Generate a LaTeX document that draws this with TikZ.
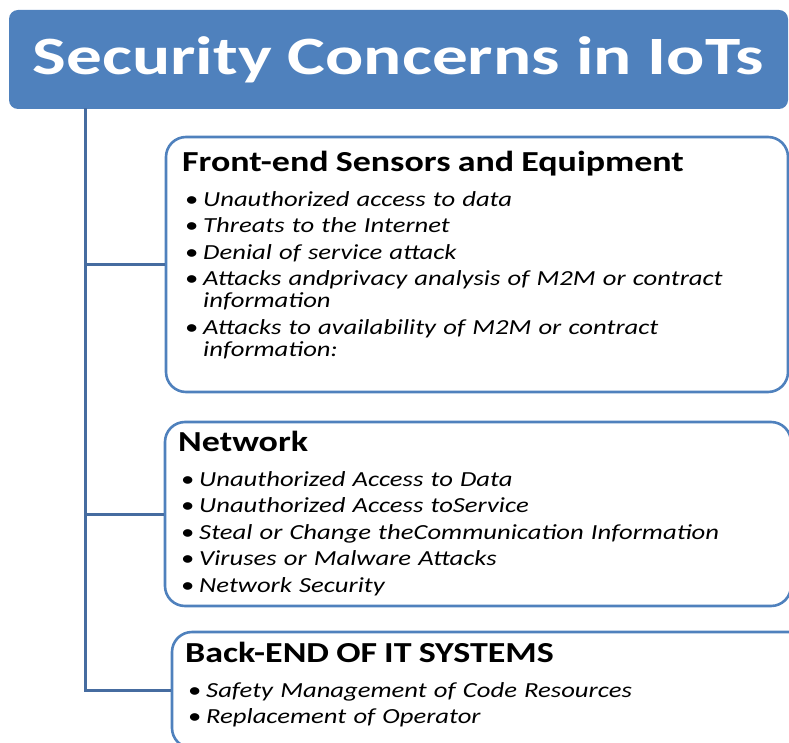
\documentclass[tikz,border=0pt]{standalone}
\usepackage{fontspec}
\usepackage{xcolor}
\newfontfamily\bodyfont[FakeStretch=1.24]{Carlito}
\newfontfamily\titlefont[FakeStretch=1.32]{Carlito}
\definecolor{iotblue}{RGB}{79,129,189}
\definecolor{trunkblue}{RGB}{70,108,160}
\newcommand{\boxhead}[2]{\lineskiplimit=-100pt\relax\parskip=0pt\relax
  \noindent\rule{0pt}{#1pt}{\fontsize{29}{29}\selectfont\bfseries #2}\par\vspace{8.5pt}}
\newcommand{\threat}[1]{\par\vspace{4.5pt}\noindent\hangindent=21pt\hangafter=1\makebox[21pt][l]{\hspace{3pt}\textbullet}{\itshape #1}\par}

\begin{document}
\begin{tikzpicture}
  [x=1pt,y=-1pt,
   titlebox/.style={rectangle,rounded corners=9pt,fill=iotblue,text=white,
     minimum width=779pt,minimum height=99pt,inner sep=0pt,
     font=\titlefont\fontsize{54}{54}\selectfont\bfseries,
     text height=34.5pt,text depth=3.5pt},
   threatbox/.style={rectangle,rounded corners=20pt,draw=iotblue,line width=2.6pt,
     fill=white,inner sep=0pt},
   threatlist/.style={anchor=north west,inner sep=0pt,text width=600pt,align=left,
     font=\bodyfont\fontsize{21.5}{22}\selectfont},
   trunk/.style={draw=trunkblue,line width=3pt}]
  \useasboundingbox (0,0) rectangle (789,743);
  \clip (0,0) rectangle (789,743);

  \node[titlebox] (title) at (398.5,59.5) {Security Concerns in IoTs};

  \node[threatbox,minimum width=622pt,minimum height=255pt] (front) at (477,264.5) {};
  \node[threatbox,minimum width=626pt,minimum height=184pt] (net) at (478,514) {};
  \node[threatbox,minimum width=648pt,minimum height=116pt] (back) at (496,690) {};

  \coordinate (root) at (85,108);
  \draw[trunk] (root) |- (back.west);
  \foreach \tier in {front,net}
    \draw[trunk] (root |- \tier.west) -- (\tier.west);

  \node[threatlist] (frontlist) at (182,137) {\boxhead{34}{Front-end Sensors and Equipment}
    \threat{Unauthorized access to data}
    \threat{Threats to the Internet}
    \threat{Denial of service attack}
    \threat{Attacks andprivacy analysis of M2M or contract\newline information}
    \threat{Attacks to availability of M2M or contract\newline information:}};

  \node[threatlist] (netlist) at (178,422) {\boxhead{29}{Network}
    \threat{Unauthorized Access to Data}
    \threat{Unauthorized Access toService}
    \threat{Steal or Change theCommunication Information}
    \threat{Viruses or Malware Attacks}
    \threat{Network Security}};

  \node[threatlist] (backlist) at (185,632) {\boxhead{30}{Back-END OF IT SYSTEMS}
    \threat{Safety Management of Code Resources}
    \threat{Replacement of Operator}};

\end{tikzpicture}
\end{document}
